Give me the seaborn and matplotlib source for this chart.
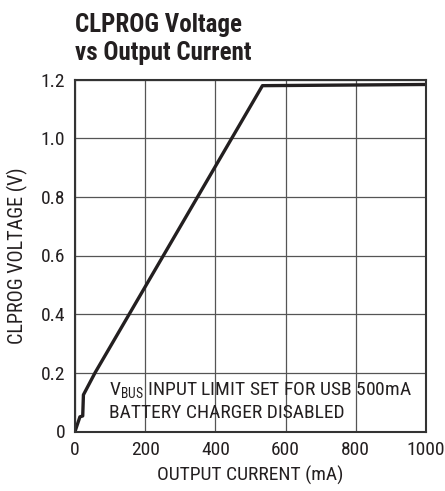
import matplotlib
matplotlib.use("Agg")
import matplotlib.pyplot as plt
import pandas as pd
import seaborn as sns

# values
current_ma = [0, 14, 22, 24, 57, 534, 1000]
clprog_v = [0, 0.05, 0.053, 0.125, 0.2, 1.179, 1.183]
x_ticks = [0, 200, 400, 600, 800, 1000]
y_ticks = [0, 0.2, 0.4, 0.6, 0.8, 1.0, 1.2]
y_tick_labels = ["0", "0.2", "0.4", "0.6", "0.8", "1.0", "1.2"]

df = pd.DataFrame({"current": current_ma, "voltage": clprog_v})

sns.set_style("white")
font = ["Roboto Condensed", "Archivo Narrow", "DejaVu Sans"]
plt.rcParams["font.family"] = font
plt.rcParams["mathtext.fontset"] = "custom"
plt.rcParams["mathtext.rm"] = "Roboto Condensed"
ink = "#231f20"

fig = plt.figure(figsize=(4.45, 4.91), dpi=100)
ax = fig.add_axes([75 / 445, 1 - 431.5 / 491, 351 / 445, 352 / 491])

sns.lineplot(data=df, x="current", y="voltage", ax=ax, color=ink,
             linewidth=2.4, sort=False, estimator=None)

ax.set_xlim(0, 1000)
ax.set_ylim(0, 1.2)
ax.set_xticks(x_ticks)
ax.set_yticks(y_ticks)
ax.set_yticklabels(y_tick_labels)
ax.grid(True, color="#555555", linewidth=0.9)
for s in ax.spines.values():
    s.set_color("#333333")
    s.set_linewidth(1.5)
ax.tick_params(length=0, labelsize=14, pad=7, colors=ink)

ax.set_xlabel("OUTPUT CURRENT (mA)", fontsize=14, color=ink, labelpad=5)
ax.set_ylabel("CLPROG VOLTAGE (V)", fontsize=14.5, color=ink, labelpad=9)

ax.text(97, 0.137, r"V$_{\rm BUS}$ INPUT LIMIT SET FOR USB 500mA", fontsize=14,
        va="center", color=ink)
ax.text(97, 0.063, "BATTERY CHARGER DISABLED", fontsize=14, va="center",
        color=ink)

fig.text(75 / 445, 1 - 32 / 491, "CLPROG Voltage", fontsize=18,
         fontweight="bold", ha="left", va="baseline", color=ink)
fig.text(75 / 445, 1 - 60 / 491, "vs Output Current", fontsize=18,
         fontweight="bold", ha="left", va="baseline", color=ink)

fig.savefig("out.png", dpi=100)
